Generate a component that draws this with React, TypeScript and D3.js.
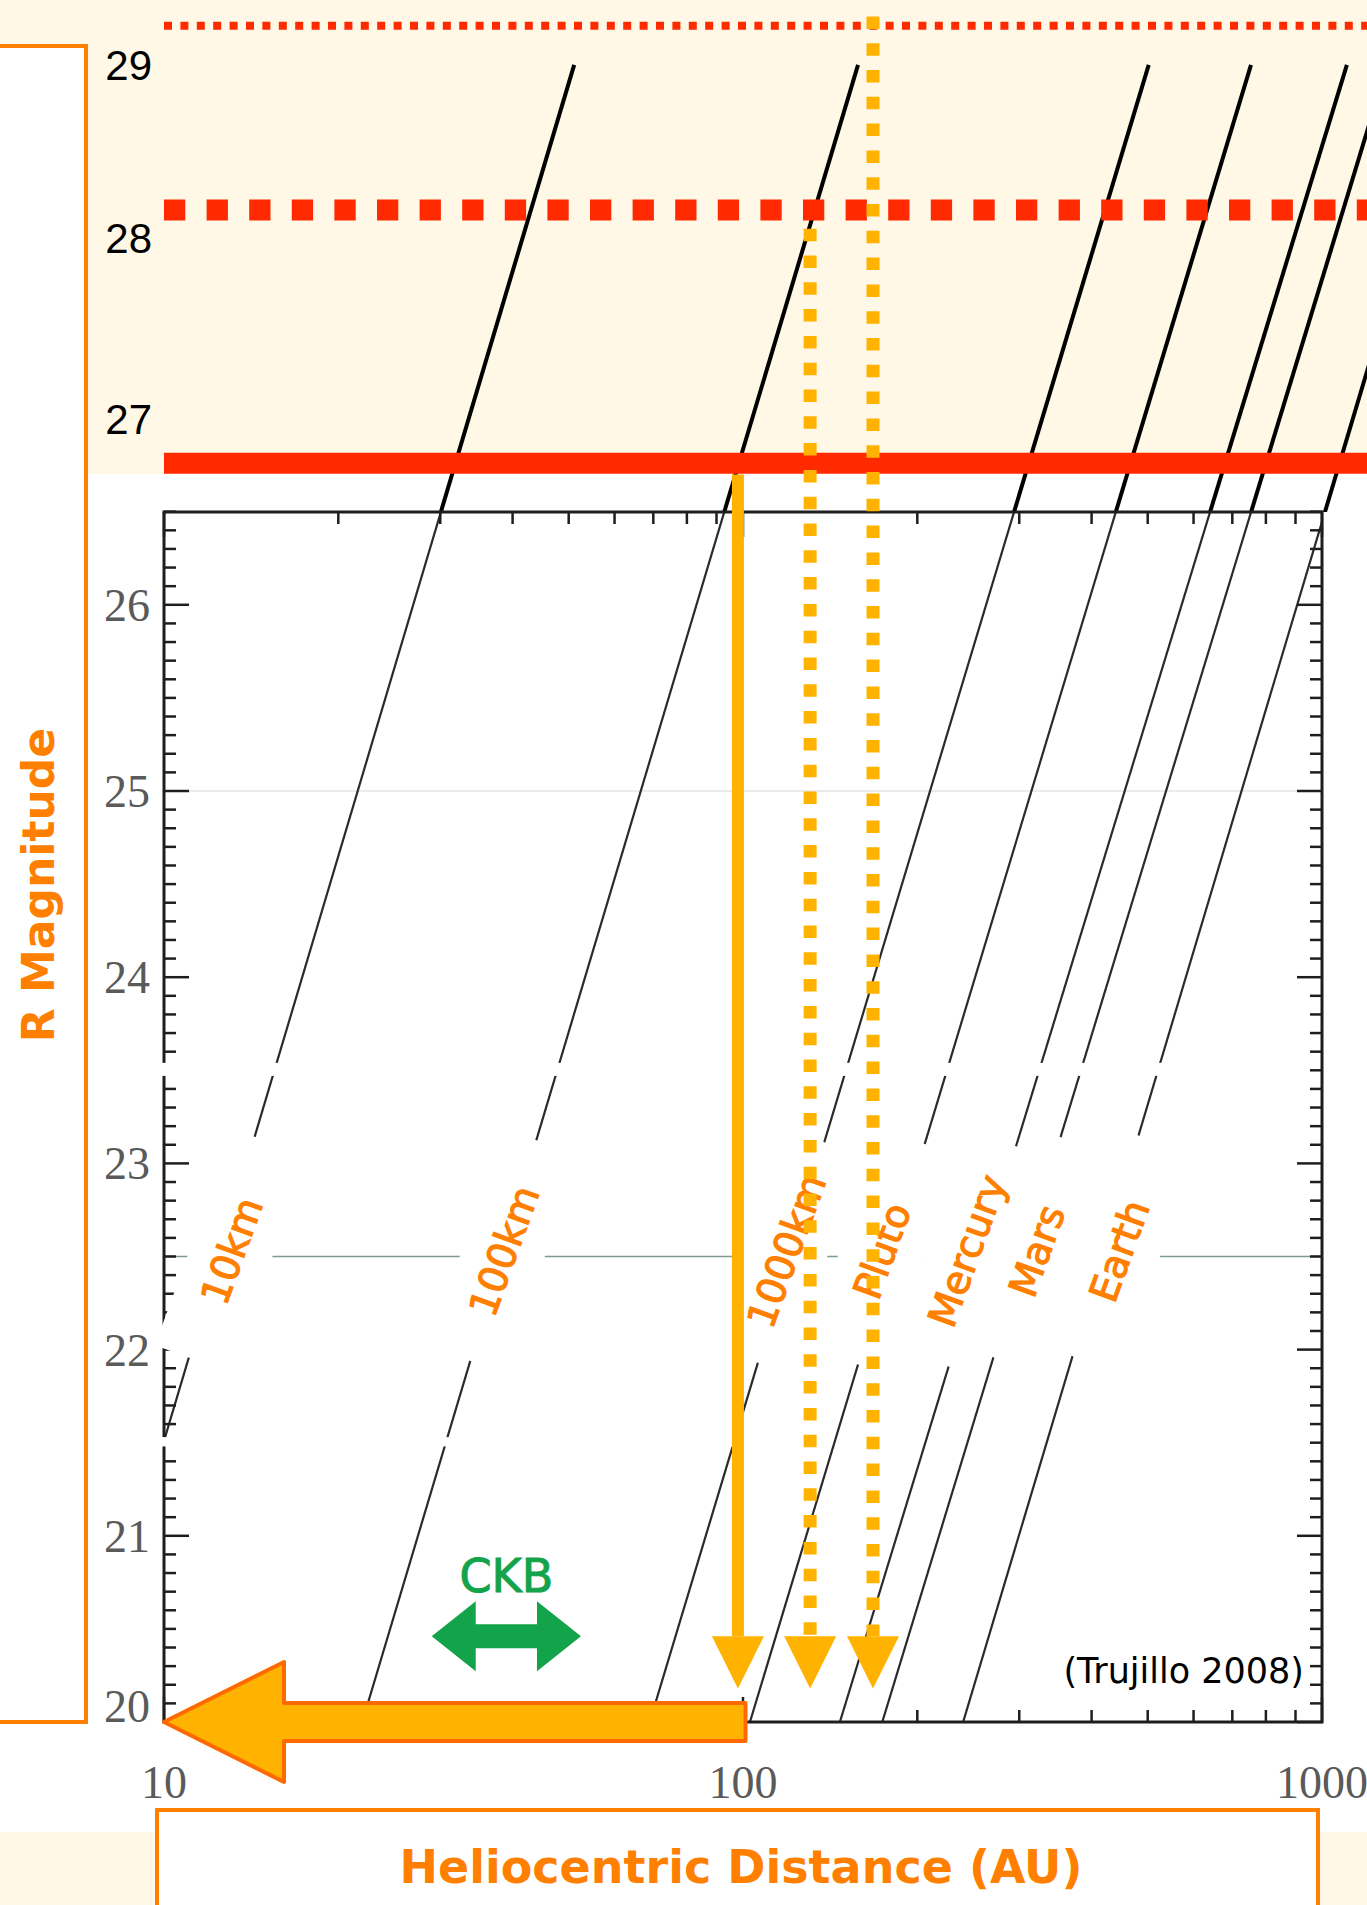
import React from "react";
import * as d3 from "d3";

// size lines: start and end points (distance AU, R mag)
const objectNames = ["10km", "100km", "1000km", "Pluto", "Mercury", "Mars", "Earth"];
const lineStartDist = [10, 22.0, 69.0, 102.8, 147, 174, 240];
const lineStartMag = [21.51, 20, 20, 20, 20, 20, 20];
const lineEndDist = [51.1, 158, 502, 754, 1104, 1297, 1722];
const lineEndMag = [28.9, 28.9, 28.9, 28.9, 28.9, 28.9, 28.9];
const labelDist = [13.1, 38.7, 119, 174, 244, 322, 447];
const labelMag = 22.53;

// survey limits (solid, dashed, dotted)
const limitMags = [26.76, 28.12, 29.11];
const upperTickLabels = ["27", "28", "29"];
const upperTickMags = [27, 27.97, 28.9];

const yTickLabels = [20, 21, 22, 23, 24, 25, 26];
const xTickLabels = [10, 100, 1000];

// where a 100km body drops below each limit
const detectDist = [98, 130.6, 167.7];
const detectStartMag = [26.7, 28.02, 29.16];
const arrowTopMag = 20.46;
const arrowTipMag = 20.18;

const ckbRange = [29, 52.5];
const ckbMag = 20.46;
const bigArrowFrom = 101;
const bigArrowTo = 10;
const sourceNote = "(Trujillo 2008)";

const W = 1367;
const H = 1905;
const left = 164;
const right = 1322;
const top = 512;
const bottom = 1722;

const RED = "#FF2A00";
const AMBER = "#FFB300";
const ORANGE = "#FF7F00";
const BEIGE = "#FFF8E6";
const sans = "'DejaVu Sans', Verdana, sans-serif";

const x = d3.scaleLog().domain([10, 1000]).range([left, right]);
const y = d3.scaleLinear().domain([20, 26.5]).range([bottom, bottom - 6.5 * 186.2]);

const App = () => {
  const lineGen = d3
    .line<[number, number]>()
    .x((d) => x(d[0]))
    .y((d) => y(d[1]));

  const lines = objectNames.map((name, i) => ({
    name,
    pts: [
      [lineStartDist[i], lineStartMag[i]],
      [lineEndDist[i], lineEndMag[i]],
    ] as [number, number][],
  }));

  const yMinor = d3.range(200, 266).map((v) => v / 10);
  const xMinor = [...d3.range(2, 10).map((v) => v * 10), ...d3.range(2, 10).map((v) => v * 100)];

  const limitStyles = [
    { w: 21, dash: "none" },
    { w: 21, dash: "21.3 21.3" },
    { w: 8, dash: "8 8.4" },
  ];

  const tipY = y(20);
  const tipX = x(bigArrowTo);
  const bodyR = x(bigArrowFrom);
  const headX = tipX + 120;
  const bigArrow = [
    [tipX, tipY],
    [headX, tipY - 60],
    [headX, tipY - 19],
    [bodyR, tipY - 19],
    [bodyR, tipY + 19],
    [headX, tipY + 19],
    [headX, tipY + 60],
  ];

  const cl = x(ckbRange[0]);
  const cr = x(ckbRange[1]);
  const cy = y(ckbMag);
  const ckbArrow = [
    [cl, cy],
    [cl + 44, cy - 35],
    [cl + 44, cy - 12],
    [cr - 44, cy - 12],
    [cr - 44, cy - 35],
    [cr, cy],
    [cr - 44, cy + 35],
    [cr - 44, cy + 12],
    [cl + 44, cy + 12],
    [cl + 44, cy + 35],
  ];

  return (
    <div style={{ position: "absolute", left: 0, top: 0 }}>
      <svg width={W} height={H} style={{ display: "block", background: "#fff" }}>
        <defs>
          <clipPath id="upper">
            <rect x={0} y={0} width={W} height={top} />
          </clipPath>
          <clipPath id="plot">
            <rect x={left} y={top} width={right - left} height={bottom - top} />
          </clipPath>
        </defs>

        {/* backgrounds */}
        <rect x={0} y={0} width={W} height={474} fill={BEIGE} />
        <rect x={0} y={1832} width={W} height={H - 1832} fill={BEIGE} />

        {/* y title box */}
        <rect x={-10} y={46} width={96} height={1676} fill="#fff" stroke="#FF8000" strokeWidth={4} />
        <text
          transform={`translate(38,885) rotate(-90)`}
          textAnchor="middle"
          dominantBaseline="central"
          fontFamily={sans}
          fontWeight="bold"
          fontSize={44}
          fill={ORANGE}
        >
          R Magnitude
        </text>

        {/* upper extension tick labels */}
        {upperTickLabels.map((t, i) => (
          <text
            key={t}
            x={152}
            y={y(upperTickMags[i]) + 15}
            textAnchor="end"
            fontFamily="'Liberation Sans', Arial, sans-serif"
            fontSize={42}
            fill="#000"
          >
            {t}
          </text>
        ))}

        {/* extended size lines */}
        <g clipPath="url(#upper)">
          {lines.map((l) => (
            <path key={l.name} d={lineGen(l.pts) || ""} fill="none" stroke="#000" strokeWidth={4} />
          ))}
        </g>

        {/* survey limit lines */}
        {limitMags.map((m, i) => (
          <line
            key={m}
            x1={left}
            x2={W}
            y1={y(m)}
            y2={y(m)}
            stroke={RED}
            strokeWidth={limitStyles[i].w}
            strokeDasharray={limitStyles[i].dash}
          />
        ))}

        {/* guide lines inside the plot */}
        <line x1={left} x2={right} y1={y(25)} y2={y(25)} stroke="#e4e4e4" strokeWidth={1.5} />
        <line x1={left} x2={right} y1={y(22.5)} y2={y(22.5)} stroke="#7d9c8c" strokeWidth={1.5} />

        {/* size lines in the plot */}
        <g clipPath="url(#plot)">
          {lines.map((l) => (
            <path key={l.name} d={lineGen(l.pts) || ""} fill="none" stroke="#2a2a2a" strokeWidth={2.2} />
          ))}
        </g>

        {/* frame and ticks */}
        <g stroke="#1e1e1e">
          {yMinor.map((m) => {
            const major = Math.abs(m - Math.round(m)) < 1e-6;
            const len = major ? 25 : 12;
            return (
              <g key={"y" + m} strokeWidth={2.5}>
                <line x1={left} x2={left + len} y1={y(m)} y2={y(m)} />
                <line x1={right} x2={right - len} y1={y(m)} y2={y(m)} />
              </g>
            );
          })}
          {[...xTickLabels, ...xMinor].map((d) => {
            const len = xTickLabels.includes(d) ? 25 : 12;
            return (
              <g key={"x" + d} strokeWidth={2.5}>
                <line x1={x(d)} x2={x(d)} y1={bottom} y2={bottom - len} />
                <line x1={x(d)} x2={x(d)} y1={top} y2={top + len} />
              </g>
            );
          })}
          <rect x={left} y={top} width={right - left} height={bottom - top} fill="none" strokeWidth={3} />
        </g>

        {/* tick labels */}
        {yTickLabels.map((m) => (
          <text
            key={m}
            x={150}
            y={Math.min(y(m) + 16, bottom)}
            textAnchor="end"
            fontFamily="'Liberation Serif', 'Times New Roman', serif"
            fontSize={46}
            fill="#5a5a5a"
          >
            {m}
          </text>
        ))}
        {xTickLabels.map((d) => (
          <text
            key={d}
            x={x(d)}
            y={1798}
            textAnchor="middle"
            fontFamily="'Liberation Serif', 'Times New Roman', serif"
            fontSize={46}
            fill="#5a5a5a"
          >
            {d}
          </text>
        ))}

        {/* white strips left in the source slide */}
        <rect x={161} y={y(23.54)} width={x(550) - 161} height={y(23.47) - y(23.54)} fill="#fff" />
        <rect x={161} y={y(21.53)} width={x(98) - 161} height={y(21.48) - y(21.53)} fill="#fff" />

        {/* size labels on white boxes */}
        {objectNames.map((name, i) => (
          <g key={name} transform={`translate(${x(labelDist[i])},${y(labelMag)}) rotate(-70)`}>
            <rect x={-115} y={-40} width={230} height={80} fill="#fff" />
            <text
              textAnchor="middle"
              dominantBaseline="central"
              fontFamily={sans}
              fontSize={39}
              fill={ORANGE}
              stroke={ORANGE}
              strokeWidth={1.2}
            >
              {name}
            </text>
          </g>
        ))}

        {/* detection limit arrows */}
        {detectDist.map((d, i) => {
          const xx = x(d);
          const solid = i === 0;
          return (
            <g key={d}>
              <line
                x1={xx}
                x2={xx}
                y1={y(detectStartMag[i])}
                y2={y(arrowTopMag)}
                stroke={AMBER}
                strokeWidth={solid ? 12 : 13}
                strokeDasharray={solid ? "none" : "12.5 14.3"}
              />
              <polygon
                points={`${xx - 26},${y(arrowTopMag)} ${xx + 26},${y(arrowTopMag)} ${xx},${y(arrowTipMag)}`}
                fill={AMBER}
              />
            </g>
          );
        })}

        {/* big arrow toward small distances */}
        <polygon
          points={bigArrow.map((p) => p.join(",")).join(" ")}
          fill={AMBER}
          stroke="#FF6A00"
          strokeWidth={4}
          strokeLinejoin="round"
        />

        {/* classical Kuiper belt */}
        <polygon points={ckbArrow.map((p) => p.join(",")).join(" ")} fill="#13A34A" />
        <text
          x={(cl + cr) / 2}
          y={1592}
          textAnchor="middle"
          fontFamily={sans}
          fontSize={46}
          fill="#13A34A"
          stroke="#13A34A"
          strokeWidth={1}
        >
          CKB
        </text>

        <text x={1304} y={1683} textAnchor="end" fontFamily={sans} fontSize={35} fill="#000">
          {sourceNote}
        </text>

        {/* x title box */}
        <rect x={157} y={1810} width={1161} height={120} fill="#fff" stroke="#FF8000" strokeWidth={4} />
        <text
          x={741}
          y={1883}
          textAnchor="middle"
          fontFamily={sans}
          fontWeight="bold"
          fontSize={46}
          fill={ORANGE}
        >
          Heliocentric Distance (AU)
        </text>
      </svg>
    </div>
  );
};

export default App;
